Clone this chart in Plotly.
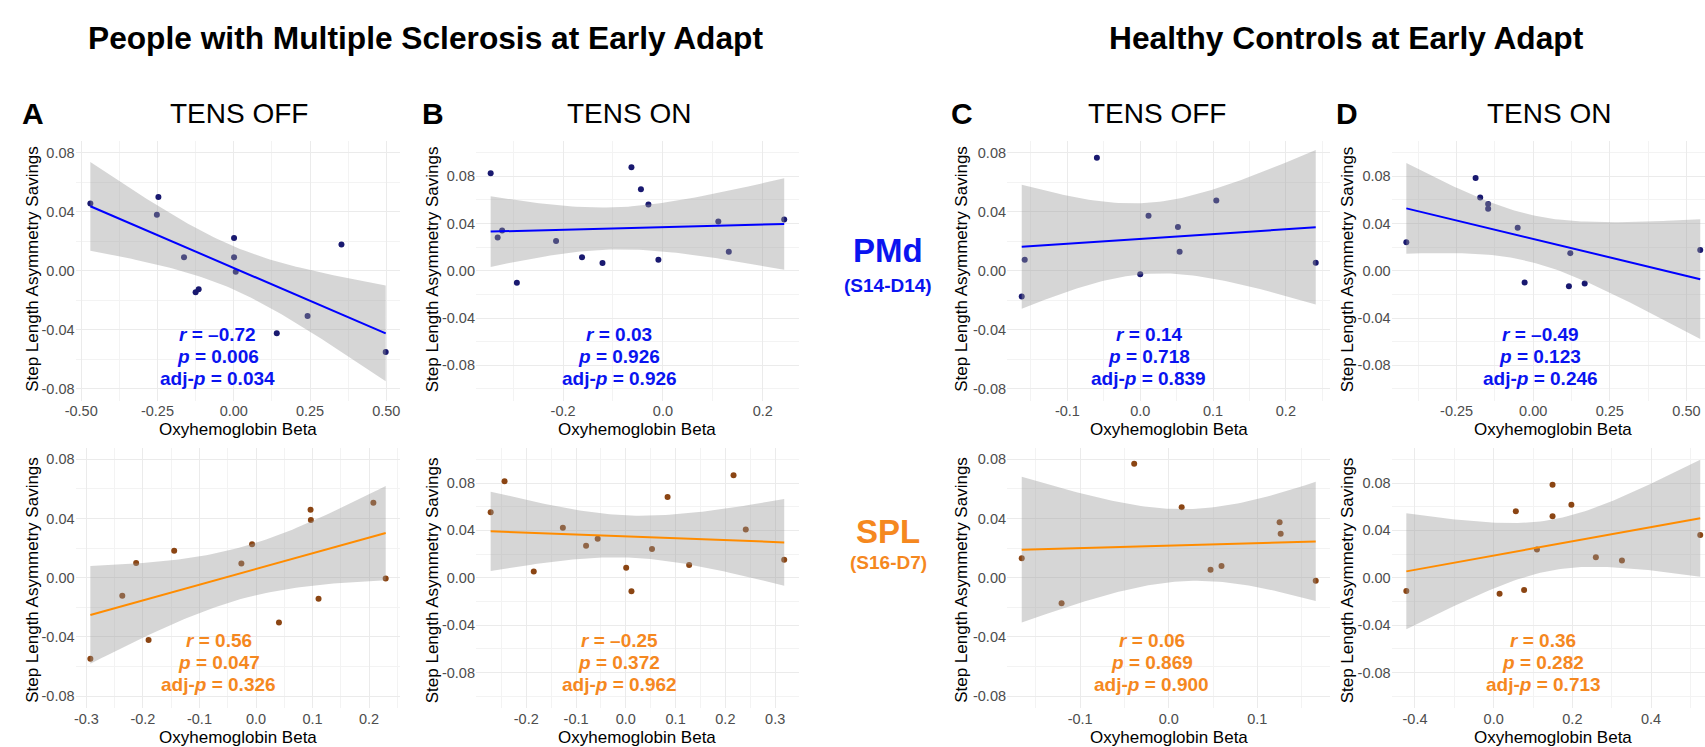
import numpy as np
import plotly.graph_objects as go

W, H = 1705, 747
FONT = "Liberation Sans, Arial, Helvetica, sans-serif"

# ---------------- data ----------------
ms_off_pmd_x = [-0.470, -0.247, -0.252, -0.163, -0.125, -0.115, 0.001, 0.001, 0.0065, 0.141, 0.242, 0.353, 0.498]
ms_off_pmd_y = [0.0455, 0.050, 0.038, 0.0092, -0.0146, -0.0126, 0.0221, 0.0092, -0.0007, -0.0424, -0.0306, 0.0178, -0.055]
ms_on_pmd_x = [-0.345, -0.331, -0.322, -0.2925, -0.214, -0.162, -0.121, -0.063, -0.044, -0.029, -0.009, 0.111, 0.132, 0.243]
ms_on_pmd_y = [0.0825, 0.0282, 0.0341, -0.0101, 0.0251, 0.0115, 0.0065, 0.0876, 0.069, 0.056, 0.0093, 0.0417, 0.016, 0.0434]
hc_off_pmd_x = [-0.1627, -0.1586, -0.0595, 0.0, 0.0114, 0.0518, 0.0541, 0.1045, 0.241]
hc_off_pmd_y = [-0.0174, 0.0075, 0.0766, -0.0023, 0.0373, 0.0296, 0.0129, 0.0475, 0.0054]
hc_on_pmd_x = [-0.414, -0.188, -0.173, -0.147, -0.147, -0.0507, -0.028, 0.1165, 0.121, 0.168, 0.545]
hc_on_pmd_y = [0.0242, 0.0786, 0.062, 0.0566, 0.0524, 0.0363, -0.0099, -0.0132, 0.0149, -0.0107, 0.0175]

ms_off_spl_x = [-0.293, -0.2365, -0.212, -0.190, -0.1447, -0.0259, -0.007, 0.0406, 0.0965, 0.097, 0.1106, 0.2076, 0.2294]
ms_off_spl_y = [-0.0547, -0.0122, 0.0099, -0.042, 0.0183, 0.0097, 0.0226, -0.0303, 0.0459, 0.039, -0.0142, 0.0506, -0.0005]
ms_on_spl_x = [-0.2716, -0.2437, -0.185, -0.1265, -0.0799, -0.0566, 0.0007, 0.0113, 0.0526, 0.0839, 0.1272, 0.2164, 0.241, 0.3182]
ms_on_spl_y = [0.0554, 0.0816, 0.0053, 0.0422, 0.027, 0.0329, 0.0084, -0.0113, 0.0242, 0.0681, 0.0107, 0.0866, 0.0408, 0.0152]
hc_off_spl_x = [-0.166, -0.121, -0.039, 0.0146, 0.0472, 0.0596, 0.1252, 0.1264, 0.166]
hc_off_spl_y = [0.0131, -0.0172, 0.0771, 0.0477, 0.0054, 0.0079, 0.0375, 0.0298, -0.002]
hc_on_spl_x = [-0.222, 0.015, 0.0563, 0.0773, 0.110, 0.1496, 0.1496, 0.1975, 0.2597, 0.326, 0.525]
hc_on_spl_y = [-0.0112, -0.0135, 0.0562, -0.0104, 0.0239, 0.0785, 0.052, 0.0616, 0.0174, 0.0146, 0.036]

# statistics printed on each panel
stats_ms_off_pmd = ["–0.72", "0.006", "0.034"]
stats_ms_on_pmd = ["0.03", "0.926", "0.926"]
stats_hc_off_pmd = ["0.14", "0.718", "0.839"]
stats_hc_on_pmd = ["–0.49", "0.123", "0.246"]
stats_ms_off_spl = ["0.56", "0.047", "0.326"]
stats_ms_on_spl = ["–0.25", "0.372", "0.962"]
stats_hc_off_spl = ["0.06", "0.869", "0.900"]
stats_hc_on_spl = ["0.36", "0.282", "0.713"]

# tick labels
xt_ms_off_pmd = ([-0.5, -0.25, 0, 0.25, 0.5], ["-0.50", "-0.25", "0.00", "0.25", "0.50"])
xt_ms_on_pmd = ([-0.2, 0, 0.2], ["-0.2", "0.0", "0.2"])
xt_hc_off_pmd = ([-0.1, 0, 0.1, 0.2], ["-0.1", "0.0", "0.1", "0.2"])
xt_hc_on_pmd = ([-0.25, 0, 0.25, 0.5], ["-0.25", "0.00", "0.25", "0.50"])
xt_ms_off_spl = ([-0.3, -0.2, -0.1, 0, 0.1, 0.2], ["-0.3", "-0.2", "-0.1", "0.0", "0.1", "0.2"])
xt_ms_on_spl = ([-0.2, -0.1, 0, 0.1, 0.2, 0.3], ["-0.2", "-0.1", "0.0", "0.1", "0.2", "0.3"])
xt_hc_off_spl = ([-0.1, 0, 0.1], ["-0.1", "0.0", "0.1"])
xt_hc_on_spl = ([-0.2, 0, 0.2, 0.4], ["-0.4", "0.0", "0.2", "0.4"])
y_tickvals = [-0.08, -0.04, 0.0, 0.04, 0.08]
y_ticktext = ["-0.08", "-0.04", "0.00", "0.04", "0.08"]

# ---------------- styling / layout ----------------
C_PMD_PT, C_PMD_LINE, C_PMD_TXT = "#191970", "#0000FF", "#0A14F0"
C_SPL_PT, C_SPL_LINE, C_SPL_TXT = "#8B4513", "#FF8C00", "#F5881F"
BAND = "rgba(153,153,153,0.4)"
T975 = {5: 2.571, 6: 2.447, 7: 2.365, 8: 2.306, 9: 2.262, 10: 2.228, 11: 2.201, 12: 2.179, 13: 2.160, 14: 2.145}

TOP = (140.8, 400.7)
BOT = (447.5, 708.0)
COLS = [(65.0, 392.0), (468.0, 793.0), (1002.5, 1328.0), (1389.6, 1715.0)]

panels = [
    dict(x=ms_off_pmd_x, y=ms_off_pmd_y, kind="pmd", col=0, row=TOP, yl=0.088, xt=xt_ms_off_pmd, st=stats_ms_off_pmd, cx=208),
    dict(x=ms_on_pmd_x, y=ms_on_pmd_y, kind="pmd", col=1, row=TOP, yl=0.11, xt=xt_ms_on_pmd, st=stats_ms_on_pmd, cx=612),
    dict(x=hc_off_pmd_x, y=hc_off_pmd_y, kind="pmd", col=2, row=TOP, yl=0.088, xt=xt_hc_off_pmd, st=stats_hc_off_pmd, cx=1145),
    dict(x=hc_on_pmd_x, y=hc_on_pmd_y, kind="pmd", col=3, row=TOP, yl=0.11, xt=xt_hc_on_pmd, st=stats_hc_on_pmd, cx=1539),
    dict(x=ms_off_spl_x, y=ms_off_spl_y, kind="spl", col=0, row=BOT, yl=0.088, xt=xt_ms_off_spl, st=stats_ms_off_spl, cx=209),
    dict(x=ms_on_spl_x, y=ms_on_spl_y, kind="spl", col=1, row=BOT, yl=0.11, xt=xt_ms_on_spl, st=stats_ms_on_spl, cx=612),
    dict(x=hc_off_spl_x, y=hc_off_spl_y, kind="spl", col=2, row=BOT, yl=0.088, xt=xt_hc_off_spl, st=stats_hc_off_spl, cx=1148),
    dict(x=hc_on_spl_x, y=hc_on_spl_y, kind="spl", col=3, row=BOT, yl=0.11, xt=xt_hc_on_spl, st=stats_hc_on_spl, cx=1542),
]


def px_x(v):
    return v / W


def px_y(v):
    return 1 - v / H


fig = go.Figure()
annotations = []
layout_axes = {}

for i, p in enumerate(panels, start=1):
    xs = np.array(p["x"], float)
    ys = np.array(p["y"], float)
    n = len(xs)
    pt_c = C_PMD_PT if p["kind"] == "pmd" else C_SPL_PT
    ln_c = C_PMD_LINE if p["kind"] == "pmd" else C_SPL_LINE
    tx_c = C_PMD_TXT if p["kind"] == "pmd" else C_SPL_TXT
    xa = "x" if i == 1 else f"x{i}"
    ya = "y" if i == 1 else f"y{i}"

    # linear fit with 95% confidence band (as geom_smooth(method = "lm"))
    b, a = np.polyfit(xs, ys, 1)
    resid = ys - (a + b * xs)
    s = np.sqrt(np.sum(resid ** 2) / (n - 2))
    xbar = xs.mean()
    sxx = np.sum((xs - xbar) ** 2)
    xg = np.linspace(xs.min(), xs.max(), 80)
    yg = a + b * xg
    se = s * np.sqrt(1.0 / n + (xg - xbar) ** 2 / sxx)
    tq = T975[n - 2]
    up, lo = yg + tq * se, yg - tq * se

    fig.add_trace(go.Scatter(x=xs, y=ys, mode="markers", xaxis=xa, yaxis=ya,
                             marker=dict(color=pt_c, size=6, line=dict(width=0)),
                             hoverinfo="skip", showlegend=False))
    fig.add_trace(go.Scatter(x=np.concatenate([xg, xg[::-1]]), y=np.concatenate([up, lo[::-1]]),
                             mode="lines", fill="toself", fillcolor=BAND, line=dict(width=0),
                             xaxis=xa, yaxis=ya, hoverinfo="skip", showlegend=False))
    fig.add_trace(go.Scatter(x=xg, y=yg, mode="lines", line=dict(color=ln_c, width=2),
                             xaxis=xa, yaxis=ya, hoverinfo="skip", showlegend=False))

    # axis ranges: ggplot default 5% expansion of the data range
    span = xs.max() - xs.min()
    x0, x1 = xs.min() - 0.05 * span, xs.max() + 0.05 * span
    L, R = COLS[p["col"]]
    vis_r = min(R, W)
    x1v = x0 + (x1 - x0) * (vis_r - L) / (R - L)
    top, bot = p["row"]

    tv, tt = p["xt"]
    step = tv[1] - tv[0]
    minor_x = [v + step / 2 for v in [tv[0] - step] + list(tv)]
    minor_x = [m for m in minor_x if x0 <= m <= x1v]
    minor_y = [m for m in [-0.10, -0.06, -0.02, 0.02, 0.06, 0.10] if abs(m) <= p["yl"]]

    common = dict(showgrid=True, gridcolor="#EBEBEB", gridwidth=1, zeroline=False, showline=False,
                  ticks="", tickfont=dict(family=FONT, size=14.5, color="#4D4D4D"), fixedrange=True)
    layout_axes["xaxis" if i == 1 else f"xaxis{i}"] = dict(
        common, domain=[px_x(L), px_x(vis_r)], anchor=ya, range=[x0, x1v],
        tickmode="array", tickvals=tv, ticktext=tt,
        minor=dict(tickmode="array", tickvals=minor_x, showgrid=True, gridcolor="#F3F3F3", gridwidth=1))
    layout_axes["yaxis" if i == 1 else f"yaxis{i}"] = dict(
        common, domain=[px_y(bot), px_y(top)], anchor=xa, range=[-p["yl"], p["yl"]],
        tickmode="array", tickvals=y_tickvals, ticktext=y_ticktext,
        minor=dict(tickmode="array", tickvals=minor_y, showgrid=True, gridcolor="#F3F3F3", gridwidth=1))

    # stats text
    r_s, p_s, adj_s = p["st"]
    lines = [f"<b><i>r</i> = {r_s}</b>", f"<b><i>p</i> = {p_s}</b>", f"<b>adj-<i>p</i> = {adj_s}</b>"]
    base = 334 if top < 300 else 640
    for k, txt in enumerate(lines):
        annotations.append(dict(text=txt, x=px_x(p["cx"]), y=px_y(base + 22.4 * k), xref="paper", yref="paper",
                                xanchor="center", yanchor="middle", showarrow=False,
                                font=dict(family=FONT, size=19, color=tx_c)))

    # axis titles
    annotations.append(dict(text="Oxyhemoglobin Beta", x=px_x((L + R) / 2), y=px_y(429 if top < 300 else 737),
                            xref="paper", yref="paper", xanchor="center", yanchor="middle", showarrow=False,
                            font=dict(family=FONT, size=17, color="black")))
    ytx = [21, 424, 956, 1345][p["col"]]
    annotations.append(dict(text="Step Length Asymmetry Savings", x=px_x(ytx), y=px_y(269 if top < 300 else 580),
                            xref="paper", yref="paper", xanchor="center", yanchor="middle", showarrow=False,
                            textangle=-90, font=dict(family=FONT, size=17, color="black")))

# panel letters and column titles
for letter, lx, sub, sx in [("A", 22.5, "TENS OFF", 229), ("B", 425, "TENS ON", 622),
                            ("C", 957, "TENS OFF", 1153), ("D", 1345, "TENS ON", 1548)]:
    annotations.append(dict(text=f"<b>{letter}</b>", x=px_x(lx), y=px_y(113), xref="paper", yref="paper",
                            xanchor="center", yanchor="middle", showarrow=False,
                            font=dict(family=FONT, size=30, color="black")))
    annotations.append(dict(text=sub, x=px_x(sx), y=px_y(113), xref="paper", yref="paper",
                            xanchor="center", yanchor="middle", showarrow=False,
                            font=dict(family=FONT, size=28, color="black")))

# main titles
for txt, cx in [("People with Multiple Sclerosis at Early Adapt", 417), ("Healthy Controls at Early Adapt", 1344.5)]:
    annotations.append(dict(text=f"<b>{txt}</b>", x=px_x(cx), y=px_y(38), xref="paper", yref="paper",
                            xanchor="center", yanchor="middle", showarrow=False,
                            font=dict(family=FONT, size=31.7, color="black")))

# region labels
for txt, sub, col, y1, y2 in [("PMd", "(S14-D14)", C_PMD_TXT, 251, 285), ("SPL", "(S16-D7)", C_SPL_TXT, 531, 562)]:
    annotations.append(dict(text=f"<b>{txt}</b>", x=px_x(883), y=px_y(y1), xref="paper", yref="paper",
                            xanchor="center", yanchor="middle", showarrow=False,
                            font=dict(family=FONT, size=33, color=col)))
    annotations.append(dict(text=f"<b>{sub}</b>", x=px_x(883), y=px_y(y2), xref="paper", yref="paper",
                            xanchor="center", yanchor="middle", showarrow=False,
                            font=dict(family=FONT, size=19, color=col)))

fig.update_layout(width=W, height=H, margin=dict(l=0, r=0, t=0, b=0), autosize=False,
                  paper_bgcolor="white", plot_bgcolor="white", showlegend=False,
                  annotations=annotations, **layout_axes)

fig.write_html("out.html", config={"displayModeBar": False})
